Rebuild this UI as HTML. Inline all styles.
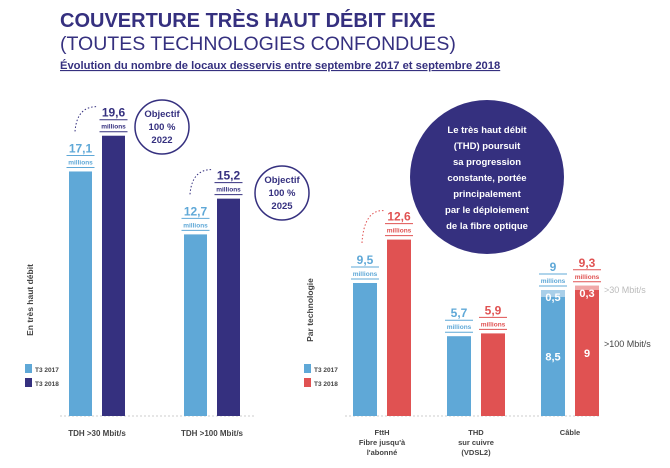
<!DOCTYPE html>
<html><head><meta charset="utf-8"><style>
body{margin:0;background:#fff;width:670px;height:463px;overflow:hidden;font-family:"Liberation Sans",sans-serif}
svg text{font-family:"Liberation Sans",sans-serif;font-weight:bold}
</style></head><body>
<svg id="c" width="670" height="463" viewBox="0 0 670 463">
<text x="60" y="27" font-size="20" fill="#35307f">COUVERTURE TRÈS HAUT DÉBIT FIXE</text>
<text x="60" y="50" font-size="19.5" fill="#35307f" style="font-weight:normal">(TOUTES TECHNOLOGIES CONFONDUES)</text>
<text x="60" y="69" font-size="11.2" fill="#35307f" text-decoration="underline">Évolution du nombre de locaux desservis entre septembre 2017 et septembre 2018</text>
<g>
<circle cx="487" cy="177" r="77" fill="#35307f"/>
<text x="487" y="133" font-size="9.5" fill="#fff" text-anchor="middle">Le très haut débit</text>
<text x="487" y="149" font-size="9.5" fill="#fff" text-anchor="middle">(THD) poursuit</text>
<text x="487" y="165" font-size="9.5" fill="#fff" text-anchor="middle">sa progression</text>
<text x="487" y="181" font-size="9.5" fill="#fff" text-anchor="middle">constante, portée</text>
<text x="487" y="197" font-size="9.5" fill="#fff" text-anchor="middle">principalement</text>
<text x="487" y="213" font-size="9.5" fill="#fff" text-anchor="middle">par le déploiement</text>
<text x="487" y="229" font-size="9.5" fill="#fff" text-anchor="middle">de la fibre optique</text>
</g>
<g><circle cx="162" cy="127" r="27" fill="#fff" stroke="#35307f" stroke-width="1.5"/>
<text x="162" y="117" font-size="9.5" fill="#35307f" text-anchor="middle">Objectif</text><text x="162" y="130" font-size="9.5" fill="#35307f" text-anchor="middle">100 %</text><text x="162" y="143" font-size="9.5" fill="#35307f" text-anchor="middle">2022</text></g>
<g><circle cx="282" cy="193" r="27" fill="#fff" stroke="#35307f" stroke-width="1.5"/>
<text x="282" y="183" font-size="9.5" fill="#35307f" text-anchor="middle">Objectif</text><text x="282" y="196" font-size="9.5" fill="#35307f" text-anchor="middle">100 %</text><text x="282" y="209" font-size="9.5" fill="#35307f" text-anchor="middle">2025</text></g>
<text transform="translate(33,300) rotate(-90)" font-size="8.5" fill="#444" text-anchor="middle">En très haut débit</text>
<text transform="translate(313,310) rotate(-90)" font-size="8.5" fill="#444" text-anchor="middle">Par technologie</text>
<g><rect x="25" y="364" width="7" height="9" fill="#5fa8d7"/><text x="35" y="372" font-size="6.5" fill="#444">T3 2017</text><rect x="25" y="378" width="7" height="9" fill="#35307f"/><text x="35" y="386" font-size="6.5" fill="#444">T3 2018</text></g>
<g><rect x="304" y="364" width="7" height="9" fill="#5fa8d7"/><text x="314" y="372" font-size="6.5" fill="#444">T3 2017</text><rect x="304" y="378" width="7" height="9" fill="#e05252"/><text x="314" y="386" font-size="6.5" fill="#444">T3 2018</text></g>
<g id="marks"></g>
<text x="604" y="293" font-size="9" fill="#bbb" style="font-weight:normal">&gt;30 Mbit/s</text>
<text x="604" y="347" font-size="9" fill="#444" style="font-weight:normal">&gt;100 Mbit/s</text>
</svg>
<script>
const leftCats=["TDH >30 Mbit/s","TDH >100 Mbit/s"];
const left2017=[17.1,12.7];
const left2018=[19.6,15.2];
const rightCats=["FttH|Fibre jusqu'à|l'abonné","THD|sur cuivre|(VDSL2)","Câble"];
const right2017=[9.5,5.7,9];
const right2018=[12.6,5.9,9.3];
const cable100=[8.5,9];
const fmt=v=>String(v).replace('.',',');
const NS="http://www.w3.org/2000/svg";
const g=document.getElementById('marks');
function el(t,a,txt){const e=document.createElementNS(NS,t);for(const k in a)e.setAttribute(k,a[k]);if(txt!==undefined)e.textContent=txt;g.appendChild(e);return e;}
const base=416;
const yL=v=>base-v*14.3, yR=v=>base-v*14.0;
function valueLabel(cx,top,v,col){
  const t=el('text',{x:cx,y:top-19,'font-size':12,fill:col,'text-anchor':'middle'},fmt(v));
  
  
  el('line',{x1:cx-14,y1:top-16,x2:cx+14,y2:top-16,stroke:col,'stroke-width':1});
  el('text',{x:cx,y:top-7,'font-size':6.5,fill:col,'text-anchor':'middle'},'millions');
  el('line',{x1:cx-14,y1:top-4,x2:cx+14,y2:top-4,stroke:col,'stroke-width':1});
}
el('line',{x1:60,y1:base,x2:255,y2:base,stroke:'#ccc','stroke-dasharray':'2,2'});
el('line',{x1:345,y1:base,x2:600,y2:base,stroke:'#ccc','stroke-dasharray':'2,2'});
const lx=[69,184];
leftCats.forEach((c,i)=>{
  const x1=lx[i],x2=lx[i]+33;
  const a=el('rect',{x:x1,y:yL(left2017[i]),width:23,height:base-yL(left2017[i]),fill:'#5fa8d7'});
  
  
  const b=el('rect',{x:x2,y:yL(left2018[i]),width:23,height:base-yL(left2018[i]),fill:'#35307f'});
  
  
  valueLabel(x1+11.5,yL(left2017[i]),left2017[i],'#5fa8d7');
  valueLabel(x2+11.5,yL(left2018[i]),left2018[i],'#35307f');
  el('path',{d:`M${x1+6} ${yL(left2017[i])-40} Q${x1+8} ${yL(left2018[i])-30} ${x2-4} ${yL(left2018[i])-29}`,fill:'none',stroke:'#35307f','stroke-dasharray':'1.5,2'});
  const t=el('text',{x:x1+28,y:436,'font-size':8,fill:'#444','text-anchor':'middle'},c);
  
  
});
const rx=[353,447,541];
rightCats.forEach((c,i)=>{
  const x1=rx[i],x2=rx[i]+34;
  const a=el('rect',{x:x1,y:yR(right2017[i]),width:24,height:base-yR(right2017[i]),fill:'#5fa8d7'});
  
  
  const b=el('rect',{x:x2,y:yR(right2018[i]),width:24,height:base-yR(right2018[i]),fill:'#e05252'});
  
  
  valueLabel(x1+12,yR(right2017[i]),right2017[i],'#5fa8d7');
  valueLabel(x2+12,yR(right2018[i]),right2018[i],'#e05252');
  if(i===2){
    [[x1,right2017[i],cable100[0],'#a9cfe9'],[x2,right2018[i],cable100[1],'#f0a8a8']].forEach(([x,tot,v,lc])=>{
      const s=el('rect',{x:x,y:yR(tot),width:24,height:yR(v)-yR(tot),fill:lc});
      
      
      el('text',{x:x+12,y:yR(tot)+11,'font-size':11,fill:'#fff','text-anchor':'middle'},fmt(Math.round((tot-v)*10)/10));
      el('text',{x:x+12,y:yR(v/2)+4,'font-size':11,fill:'#fff','text-anchor':'middle'},fmt(v));
    });
  }
  c.split('|').forEach((ln,j)=>{
    const t=el('text',{x:x1+29,y:435+j*10,'font-size':7.5,fill:'#444','text-anchor':'middle'},ln);
    
    
  });
});
el('path',{d:`M362 ${yR(9.5)-40} Q364 ${yR(12.6)-30} 384 ${yR(12.6)-29}`,fill:'none',stroke:'#e05252','stroke-dasharray':'1.5,2'});
</script>
</body></html>
